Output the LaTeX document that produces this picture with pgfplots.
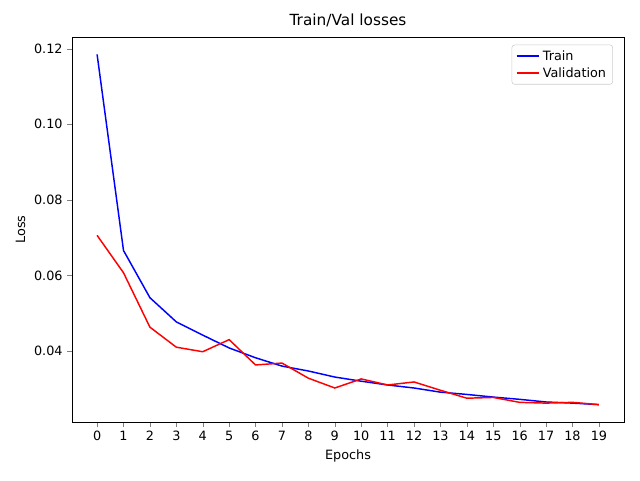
\documentclass[border=0pt]{standalone}
\usepackage{pgfplots}
\pgfplotsset{compat=1.18}
\usepackage{fontspec}
\setmainfont{DejaVu Sans}
\begin{document}
\fontsize{9.6}{11.5}\selectfont
\begin{tikzpicture}
\path[use as bounding box] (0,0) rectangle (480pt,360pt);
\begin{axis}[at={(54pt,43.5pt)}, anchor=south west, scale only axis,
 width=414pt, height=288.75pt,
 xmin=-0.95, xmax=19.95, ymin=0.0212, ymax=0.1231,
 xtick={0,...,19}, ytick={0.04,0.06,0.08,0.10,0.12},
 yticklabel style={/pgf/number format/.cd,fixed,fixed zerofill,precision=2},
 /pgf/number format/assume math mode=true,
 tick align=outside, tick pos=left, major tick length=3.65pt,
 tick label style={font=\fontsize{9.6}{11}\selectfont},
 label style={font=\fontsize{9.6}{11}\selectfont},
 title style={font=\fontsize{11.5}{13}\selectfont, yshift=-2pt},
 title={Train/Val losses}, xlabel={Epochs}, ylabel={Loss},
 legend style={at={(0.98,0.98)}, anchor=north east, draw=black!20, rounded corners=2pt, font=\fontsize{9.6}{11}\selectfont, cells={anchor=west}},
 legend cell align=left,
 every axis plot/.append style={line width=1.1pt, mark=none}]
\addplot[line width=1.1pt, color={rgb,1:red,0;green,0;blue,1}] coordinates {(0,0.1185)(1,0.0666)(2,0.0541)(3,0.0477)(4,0.0442)(5,0.0408)(6,0.0382)(7,0.036)(8,0.0347)(9,0.0331)(10,0.032)(11,0.031)(12,0.0302)(13,0.0291)(14,0.0285)(15,0.0278)(16,0.0272)(17,0.0265)(18,0.0262)(19,0.0258)};
\addlegendentry{Train}
\addplot[line width=1.1pt, color={rgb,1:red,1;green,0;blue,0}] coordinates {(0,0.0706)(1,0.0607)(2,0.0463)(3,0.041)(4,0.0398)(5,0.043)(6,0.0363)(7,0.0368)(8,0.0328)(9,0.0302)(10,0.0326)(11,0.031)(12,0.0318)(13,0.0296)(14,0.0275)(15,0.0277)(16,0.0264)(17,0.0262)(18,0.0264)(19,0.0258)};
\addlegendentry{Validation}
\end{axis}
\end{tikzpicture}
\end{document}
